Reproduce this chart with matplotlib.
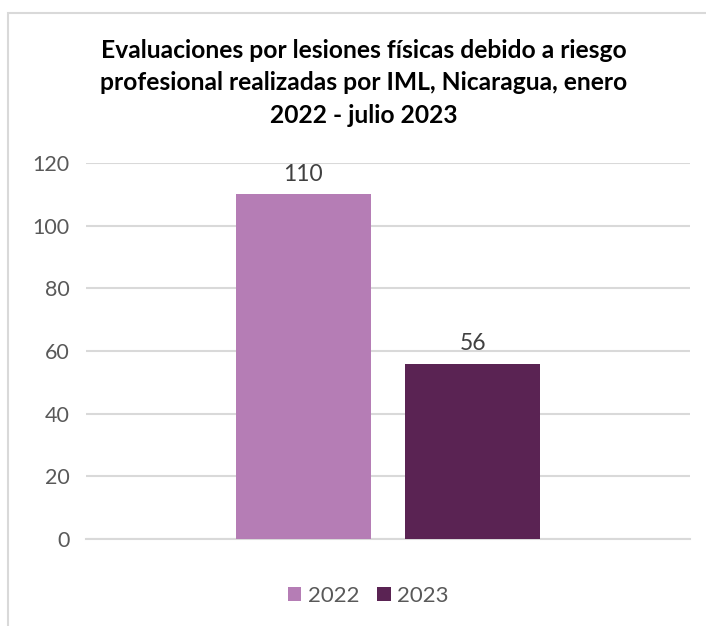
"""Evaluaciones por lesiones físicas, IML Nicaragua."""

import matplotlib

matplotlib.use("Agg")
import matplotlib.pyplot as plt
from matplotlib.patches import Rectangle

years = ["2022", "2023"]
values = [110, 56]
colors = ["#B57DB5", "#5A2353"]
y_ticks = [0, 20, 40, 60, 80, 100, 120]
title = ("Evaluaciones por lesiones físicas debido a riesgo\n"
         "profesional realizadas por IML, Nicaragua, enero\n"
         "2022 - julio 2023")

plt.rcParams["font.family"] = ["Lato", "DejaVu Sans"]

fig = plt.figure(figsize=(7.06, 6.26), dpi=100)
ax = fig.add_axes([0.1218, 0.139, 0.8552, 0.6006])

# chart frame, clipped by the picture edge on the right and bottom
fig.patches.append(Rectangle((8 / 706, -0.1), 1.2, 1 - 13 / 626 + 0.1,
                             transform=fig.transFigure, fill=False,
                             edgecolor="#D9D9D9", linewidth=1.5))

width = 0.2235
offsets = [-0.1405, 0.1405]
for year, value, color, off in zip(years, values, colors, offsets):
    ax.bar(off, value, width=width, color=color, label=year, zorder=3)
    ax.text(off, value + 3, str(value), ha="center", va="bottom",
            fontsize=16.5, color="#404040")

ax.set_xlim(-0.5, 0.5)
ax.set_ylim(0, 120)
ax.set_yticks(y_ticks)
ax.set_xticks([])
ax.tick_params(axis="y", length=0, labelsize=15.5, labelcolor="#595959", pad=12)
ax.grid(axis="y", color="#D9D9D9", linewidth=1.5, zorder=0)
for side in ("top", "right", "left"):
    ax.spines[side].set_visible(False)
ax.spines["bottom"].set_color("#D9D9D9")
ax.spines["bottom"].set_linewidth(1.5)

fig.text(0.515, 0.938, title, ha="center", va="top", fontsize=17.7,
         fontweight="bold", color="#000000", linespacing=1.5)

fig.legend(loc="center", bbox_to_anchor=(0.522, 0.048), ncol=2, frameon=False,
           fontsize=16, labelcolor="#595959", handlelength=0.6,
           handleheight=0.6, handletextpad=0.3, columnspacing=0.8)

fig.savefig("out.png", dpi=100)
